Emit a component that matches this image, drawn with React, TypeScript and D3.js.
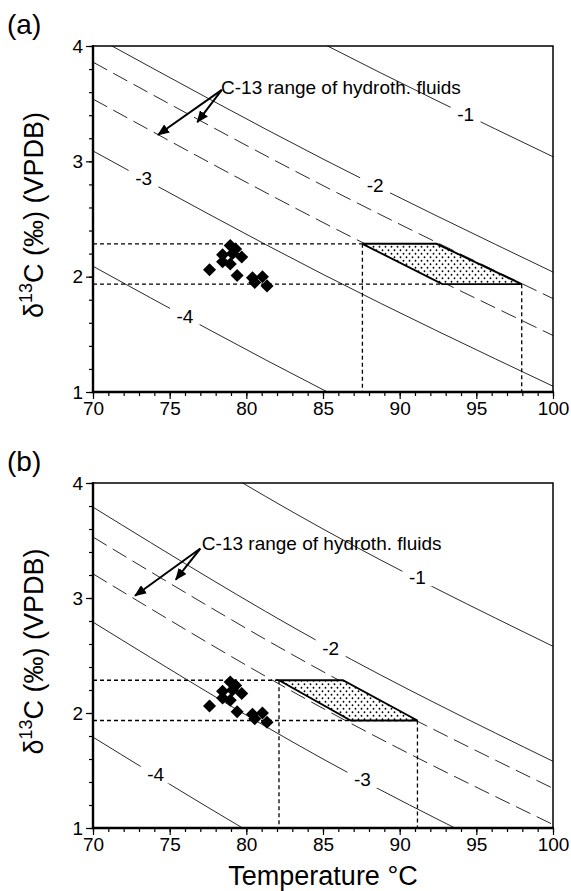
import { useEffect, useRef } from 'react';
import * as d3 from 'd3';

const lineTemps = [70, 85, 100];

// panel (a): calcite d13C along each fluid line, read at 70 / 85 / 100 °C
const aLineLabels = ['-1', '-2', '', '', '-3', '-4'];
const aLineDashed = [false, false, true, true, false, false];
const aLineValues = [
    [5.09, 4.02, 3.04],
    [4.09, 3.02, 2.04],
    [3.86, 2.79, 1.81],
    [3.54, 2.47, 1.49],
    [3.09, 2.02, 1.05],
    [2.09, 1.02, 0.05],
];
const aLabelTemps = [94.3, 88.4, 0, 0, 73.3, 76.0];
// shaded box: top edge T range, bottom edge T range
const aBoxTop = [87.57, 92.41];
const aBoxBottom = [92.78, 97.96];
const aArrowTail = [78.4, 3.62];
const aArrowTips = [[74.24, 3.23], [76.8, 3.34]];
const aNoteAt = [78.35, 3.585];

// panel (b)
const bLineLabels = ['-1', '-2', '', '', '-3', '-4'];
const bLineDashed = [false, false, true, true, false, false];
const bLineValues = [
    [4.79, 3.60, 2.58],
    [3.79, 2.60, 1.58],
    [3.53, 2.36, 1.345],
    [3.21, 2.04, 1.03],
    [2.79, 1.60, 0.58],
    [1.79, 0.60, -0.42],
];
const bLabelTemps = [91.16, 85.5, 0, 0, 87.57, 74.09];
const bBoxTop = [82.13, 86.3];
const bBoxBottom = [86.81, 91.16];
const bArrowTail = [77.0, 3.43];
const bArrowTips = [[72.74, 3.02], [75.4, 3.16]];
const bNoteAt = [77.1, 3.415];

// measured d13C range of the samples
const rangeHigh = 2.285;
const rangeLow = 1.935;

// samples (same in both panels)
const sampleT = [77.6, 78.45, 78.95, 79.3, 78.45, 78.95, 79.7, 79.4, 80.4, 80.55, 81.05, 81.35, 79.1];
const sampleC = [2.06, 2.19, 2.27, 2.24, 2.13, 2.11, 2.17, 2.01, 1.99, 1.95, 2.0, 1.92, 2.2];

const xTicks = [70, 75, 80, 85, 90, 95, 100];
const yTicks = [1, 2, 3, 4];
const noteText = 'C-13 range of hydroth. fluids';

const FONT = '"Liberation Sans", Arial, Helvetica, sans-serif';

function drawPanel(root, p) {
    const x = d3.scaleLinear().domain([70, 100]).range([93, 553]);
    const y = d3.scaleLinear().domain([1, 4]).range([p.bottom, p.top]);
    const g = root.append('g');

    g.append('clipPath').attr('id', 'clip-' + p.id)
        .append('rect')
        .attr('x', x(70)).attr('y', y(4))
        .attr('width', x(100) - x(70)).attr('height', y(1) - y(4));

    const line = d3.line()
        .x((_, i) => x(lineTemps[i]))
        .y(d => y(d))
        .curve(d3.curveNatural);

    const lines = g.append('g').attr('clip-path', `url(#clip-${p.id})`);
    p.values.forEach((vals, i) => {
        lines.append('path')
            .attr('d', line(vals))
            .attr('fill', 'none')
            .attr('stroke', '#111')
            .attr('stroke-width', 0.9)
            .attr('stroke-dasharray', p.dashed[i] ? '16,7' : null);
    });

    // line labels, cutting a gap in the line
    p.labels.forEach((lab, i) => {
        if (!lab) return;
        const at = d3.scaleLinear().domain(lineTemps).range(p.values[i]);
        const lx = x(p.labelTemps[i]);
        const ly = y(at(p.labelTemps[i]));
        g.append('rect')
            .attr('x', lx - 15).attr('y', ly - 9)
            .attr('width', 30).attr('height', 18)
            .attr('fill', '#fff');
        g.append('text')
            .attr('x', lx).attr('y', ly + 7)
            .attr('text-anchor', 'middle')
            .attr('font-size', 19)
            .text(lab);
    });

    // dotted guides
    const dotted = (x1, y1, x2, y2) => g.append('line')
        .attr('x1', x(x1)).attr('y1', y(y1)).attr('x2', x(x2)).attr('y2', y(y2))
        .attr('stroke', '#000').attr('stroke-width', 1.3).attr('stroke-dasharray', '4,3');
    dotted(70, rangeHigh, p.boxTop[0], rangeHigh);
    dotted(70, rangeLow, p.boxBottom[1], rangeLow);
    dotted(p.boxTop[0], rangeHigh, p.boxTop[0], 1);
    dotted(p.boxBottom[1], rangeLow, p.boxBottom[1], 1);

    // shaded parallelogram
    const box = [
        [p.boxTop[0], rangeHigh], [p.boxTop[1], rangeHigh],
        [p.boxBottom[1], rangeLow], [p.boxBottom[0], rangeLow],
    ];
    g.append('polygon')
        .attr('points', box.map(d => `${x(d[0])},${y(d[1])}`).join(' '))
        .attr('fill', 'url(#stipple)')
        .attr('stroke', '#000')
        .attr('stroke-width', 1.9)
        .attr('stroke-linejoin', 'miter');

    // samples
    const diamond = d3.symbol(d3.symbolSquare, 85);
    g.append('g').selectAll('path')
        .data(sampleT)
        .join('path')
        .attr('d', diamond())
        .attr('transform', (d, i) => `translate(${x(d)},${y(sampleC[i])}) rotate(45)`)
        .attr('fill', '#000');

    // annotation arrows
    p.tips.forEach(tip => {
        g.append('line')
            .attr('x1', x(p.tail[0])).attr('y1', y(p.tail[1]))
            .attr('x2', x(tip[0])).attr('y2', y(tip[1]))
            .attr('stroke', '#000').attr('stroke-width', 2)
            .attr('marker-end', 'url(#arrow)');
    });
    g.append('text')
        .attr('x', x(p.note[0])).attr('y', y(p.note[1]))
        .attr('font-size', 19)
        .text(noteText);

    // axes
    const minorX = d3.range(70, 101, 1);
    const minorY = d3.range(1, 4.01, 0.2);
    g.append('g')
        .attr('transform', `translate(0,${y(1)})`)
        .call(d3.axisBottom(x).tickValues(minorX).tickSize(4).tickFormat(() => ''))
        .call(a => a.select('.domain').remove());
    g.append('g')
        .attr('transform', `translate(${x(70)},0)`)
        .call(d3.axisLeft(y).tickValues(minorY).tickSize(4).tickFormat(() => ''))
        .call(a => a.select('.domain').remove());
    const xa = g.append('g')
        .attr('transform', `translate(0,${y(1)})`)
        .call(d3.axisBottom(x).tickValues(xTicks).tickSize(7).tickPadding(3).tickFormat(d3.format('d')));
    const ya = g.append('g')
        .attr('transform', `translate(${x(70)},0)`)
        .call(d3.axisLeft(y).tickValues(yTicks).tickSize(7).tickPadding(3).tickFormat(d3.format('d')));
    [xa, ya].forEach(a => {
        a.select('.domain').remove();
        a.selectAll('text').attr('font-size', 19).attr('font-family', FONT).attr('fill', '#000');
    });
    g.selectAll('.tick line').attr('stroke', '#000').attr('stroke-width', 1.2);

    g.append('rect')
        .attr('x', x(70)).attr('y', y(4))
        .attr('width', x(100) - x(70)).attr('height', y(1) - y(4))
        .attr('fill', 'none').attr('stroke', '#000').attr('stroke-width', 1.5);
    g.append('path')
        .attr('d', `M${x(70)},${y(4) - 1}V${y(1)}H${x(100) + 1}`)
        .attr('fill', 'none').attr('stroke', '#000').attr('stroke-width', 2.4);

    // titles
    g.append('text')
        .attr('x', 7).attr('y', p.top - 12)
        .attr('font-size', 28)
        .text(`(${p.id})`);
    const yt = g.append('text')
        .attr('transform', `translate(43,${(y(1) + y(4)) / 2 - 4}) rotate(-90)`)
        .attr('text-anchor', 'middle')
        .attr('font-size', 27);
    yt.append('tspan').text('δ');
    yt.append('tspan').attr('dy', -11).attr('font-size', 18).text('13');
    yt.append('tspan').attr('dy', 11).text('C (‰) (VPDB)');
}

export default function App() {
    const ref = useRef(null);

    useEffect(() => {
        const svg = d3.select(ref.current);
        svg.selectAll('*').remove();
        svg.attr('font-family', FONT);

        const defs = svg.append('defs');
        const pat = defs.append('pattern')
            .attr('id', 'stipple')
            .attr('patternUnits', 'userSpaceOnUse')
            .attr('width', 6).attr('height', 7);
        pat.append('rect').attr('width', 6).attr('height', 7).attr('fill', '#fff');
        pat.append('circle').attr('cx', 1.5).attr('cy', 1.75).attr('r', 0.9).attr('fill', '#000');
        pat.append('circle').attr('cx', 4.5).attr('cy', 5.25).attr('r', 0.9).attr('fill', '#000');
        defs.append('marker')
            .attr('id', 'arrow')
            .attr('viewBox', '0 0 12 10')
            .attr('refX', 11).attr('refY', 5)
            .attr('markerWidth', 12).attr('markerHeight', 10)
            .attr('markerUnits', 'userSpaceOnUse')
            .attr('orient', 'auto')
            .append('path')
            .attr('d', 'M0,0L12,5L0,10Z')
            .attr('fill', '#000');

        drawPanel(svg, {
            id: 'a', top: 46, bottom: 392,
            values: aLineValues, labels: aLineLabels, dashed: aLineDashed, labelTemps: aLabelTemps,
            boxTop: aBoxTop, boxBottom: aBoxBottom, tail: aArrowTail, tips: aArrowTips, note: aNoteAt,
        });
        drawPanel(svg, {
            id: 'b', top: 483, bottom: 828,
            values: bLineValues, labels: bLineLabels, dashed: bLineDashed, labelTemps: bLabelTemps,
            boxTop: bBoxTop, boxBottom: bBoxBottom, tail: bArrowTail, tips: bArrowTips, note: bNoteAt,
        });

        svg.append('text')
            .attr('x', 323).attr('y', 885)
            .attr('text-anchor', 'middle')
            .attr('font-size', 27)
            .text('Temperature °C');
    }, []);

    return (
        <svg
            ref={ref}
            width={571}
            height={891}
            style={{ position: 'absolute', left: 0, top: 0, background: '#fff' }}
        />
    );
}
